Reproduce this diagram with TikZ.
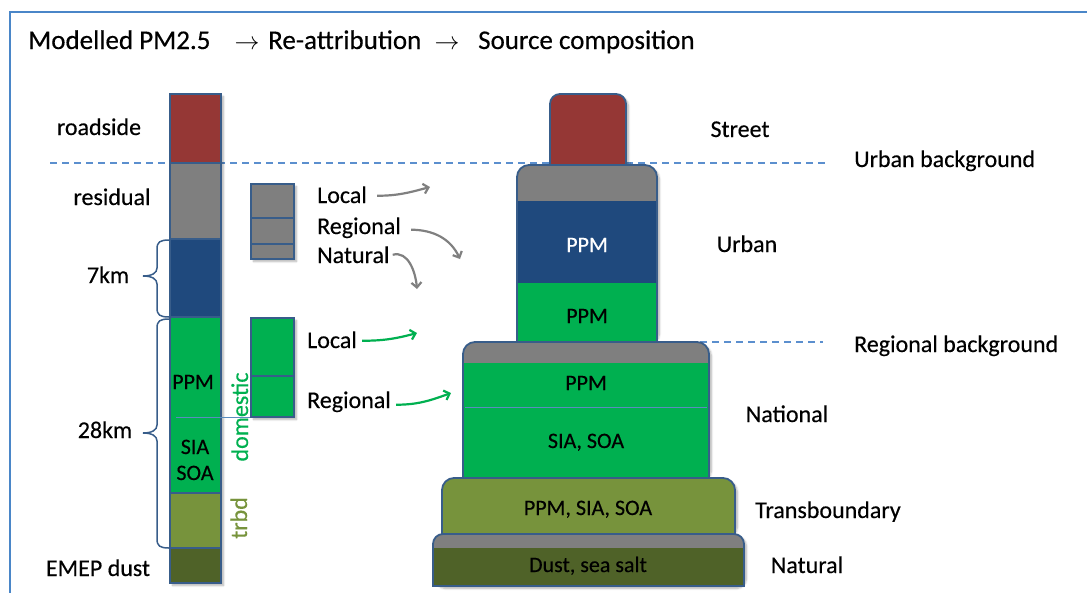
\documentclass[tikz,border=0pt]{standalone}
\usepackage{fontspec}
\setmainfont{Carlito}[FakeBold=0.35]
\usetikzlibrary{arrows.meta,shadows.blur}
\definecolor{cred}{RGB}{149,55,53}
\definecolor{cgray}{RGB}{127,127,127}
\definecolor{cblue}{RGB}{31,73,125}
\definecolor{cgreen}{RGB}{0,176,80}
\definecolor{colive}{RGB}{119,147,60}
\definecolor{cdolive}{RGB}{79,98,40}
\definecolor{cborder}{RGB}{56,93,138}
\definecolor{cdash}{RGB}{91,143,206}
\definecolor{cframe}{RGB}{74,134,200}
\definecolor{carrgray}{RGB}{128,128,128}
\definecolor{cthin}{RGB}{90,140,190}
\begin{document}
\begin{tikzpicture}[x=1pt,y=-1pt,
  lab/.style={font=\fontsize{24}{28}\selectfont, inner sep=0pt, anchor=base},
  labw/.style={lab, anchor=base west},
  boxtxt/.style={font=\fontsize{22}{26}\selectfont, inner sep=0pt, anchor=base},
  ttl/.style={font=\fontsize{27}{32}\selectfont, inner sep=0pt, anchor=base west},
  box/.style={draw=cborder, line width=1.8pt},
  brc/.style={draw=cborder, line width=1.5pt},
  dline/.style={draw=cdash, line width=1.5pt, dash pattern=on 7pt off 5pt},
  shd/.style={blur shadow={shadow xshift=2.5pt, shadow yshift=-2.5pt, shadow opacity=30, shadow blur steps=6}},
  garrow/.style={draw=carrgray, line width=2.2pt, -{Straight Barb[length=5pt,width=10pt]}},
  grarrow/.style={draw=cgreen, line width=2.2pt, -{Straight Barb[length=5pt,width=10pt]}},
  thin/.style={draw=cthin, line width=0.8pt}]
\useasboundingbox (0,0) rectangle (1087,592);
% frame
\draw[cframe, line width=2pt] (10,600) -- (10,12) -- (1095,12);
% title
\node[ttl] (t1) at (28,49) {Modelled PM2.5};
\node[ttl, anchor=base] (t2) at (247,49) {$\rightarrow$};
\node[ttl] (t3) at (268,49) {Re-attribution};
\node[ttl, anchor=base] (t4) at (447,49) {$\rightarrow$};
\node[ttl] (t5) at (478,49) {Source composition};
% dashed lines
\draw[dline] (50,163) -- (828,163);
\draw[dline] (700,342) -- (823,342);
% shadows
\path[shd] (170,94) rectangle (221,583);
\path[shd] (251,184) rectangle (294,259);
\path[shd] (251,318) rectangle (294,417);
\path[shd, rounded corners=10pt] (550,94) rectangle (626,175);
\path[shd, rounded corners=12pt] (517,165) rectangle (657,343);
\path[shd, rounded corners=12pt] (463,342) rectangle (709,480);
\path[shd, rounded corners=12pt] (442,478) rectangle (735,536);
\path[shd, rounded corners=10pt] (433,534) rectangle (744,586);
% left column
\filldraw[box, fill=cred] (170,94) rectangle (221,163);
\filldraw[box, fill=cgray] (170,163) rectangle (221,239);
\filldraw[box, fill=cblue] (170,239) rectangle (221,317);
\filldraw[box, fill=cgreen] (170,317) rectangle (221,493);
\filldraw[box, fill=colive] (170,493) rectangle (221,548);
\filldraw[box, fill=cdolive] (170,548) rectangle (221,583);
\draw[thin] (176,417) -- (251,417);
% braces
\draw[brc] (169,240) .. controls (160,240) and (157,242) .. (157,249) -- (157,268) .. controls (157,273) and (152,276) .. (143,276) .. controls (152,276) and (157,279) .. (157,284) -- (157,308) .. controls (157,315) and (160,317) .. (169,317);
\draw[brc] (169,319) .. controls (160,319) and (157,321) .. (157,328) -- (157,425) .. controls (157,430) and (152,433) .. (143,433) .. controls (152,433) and (157,436) .. (157,441) -- (157,539) .. controls (157,546) and (160,548) .. (169,548);
% small boxes
\filldraw[box, fill=cgray] (251,184) rectangle (294,218);
\filldraw[box, fill=cgray] (251,218) rectangle (294,244);
\filldraw[box, fill=cgray] (251,244) rectangle (294,259);
\filldraw[box, fill=cgreen] (251,318) rectangle (294,376);
\filldraw[box, fill=cgreen] (251,376) rectangle (294,417);
% right stack: street
\begin{scope}
\clip[rounded corners=10pt] (550,94) rectangle (626,190);
\fill[cred] (550,94) rectangle (626,170);
\end{scope}
\draw[box, rounded corners=10pt] (550,168) -- (550,94) -- (626,94) -- (626,168);
% urban block
\begin{scope}
\clip[rounded corners=12pt] (517,165) rectangle (657,380);
\fill[cgray] (517,165) rectangle (657,201);
\fill[cblue] (517,201) rectangle (657,283);
\fill[cgreen] (517,283) rectangle (657,343);
\end{scope}
\draw[box, rounded corners=12pt] (517,343) -- (517,165) -- (657,165) -- (657,343);
% national block
\begin{scope}
\clip[rounded corners=12pt] (463,342) rectangle (709,520);
\fill[cgray] (463,342) rectangle (709,363);
\fill[cgreen] (463,363) rectangle (709,480);
\end{scope}
\draw[thin] (465,407) -- (707,407);
\draw[box, rounded corners=12pt] (463,480) -- (463,342) -- (709,342) -- (709,480);
% transboundary block
\begin{scope}
\clip[rounded corners=12pt] (442,478) rectangle (735,570);
\fill[colive] (442,478) rectangle (735,536);
\end{scope}
\draw[box, rounded corners=12pt] (442,536) -- (442,478) -- (735,478) -- (735,536);
% natural block
\begin{scope}
\clip[rounded corners=10pt] (433,534) rectangle (744,620);
\fill[cgray] (433,534) rectangle (744,548);
\fill[cdolive] (433,548) rectangle (744,586);
\end{scope}
\draw[box, rounded corners=10pt] (433,586) -- (433,534) -- (744,534) -- (744,586);
\draw[box, line cap=rect] (433,586) -- (744,586);
% left labels
\node[lab] (road) at (99,135) {roadside};
\node[lab] (resid) at (112,205) {residual};
\node[lab] (km7) at (108,283) {7km};
\node[lab] (km28) at (105,438) {28km};
\node[lab] (emep) at (98,576) {EMEP dust};
\node[boxtxt] (cppm) at (193,389) {PPM};
\node[boxtxt] (csia) at (195,454) {SIA};
\node[boxtxt] (csoa) at (195,480) {SOA};
\node[lab, rotate=90, text=cgreen] (dom) at (248,417) {domestic};
\node[lab, rotate=90, text=colive] (trbd) at (247,518) {trbd};
% middle labels
\node[labw] (gLoc) at (317,203) {Local};
\node[labw] (gReg) at (317,234) {Regional};
\node[labw] (gNat) at (317,263) {Natural};
\node[labw] (grLoc) at (307,348) {Local};
\node[labw] (grReg) at (307,408) {Regional};
% arrows
\coordinate (gLocE) at (430,187);
\coordinate (gRegE) at (460,259);
\coordinate (gNatE) at (417,289);
\coordinate (grLocE) at (417,333);
\coordinate (grRegE) at (451,393);
\draw[garrow] ([xshift=10pt,yshift=-1pt]gLoc.east) to[out=0,in=195] (gLocE);
\draw[garrow] ([xshift=10pt,yshift=-2pt]gReg.east) to[out=0,in=115] (gRegE);
\draw[garrow] ([xshift=3pt]gNat.east) to[out=15,in=95] (gNatE);
\draw[grarrow] ([xshift=5pt,yshift=-1pt]grLoc.east) to[out=0,in=195] (grLocE);
\draw[grarrow] ([xshift=5pt,yshift=-3pt]grReg.east) to[out=0,in=200] (grRegE);
% stack texts
\node[boxtxt, text=white] (uppm) at (587,252) {PPM};
\node[boxtxt] (ugppm) at (587,323) {PPM};
\node[boxtxt] (nppm) at (586,390) {PPM};
\node[boxtxt] (nsia) at (586,448) {SIA, SOA};
\node[boxtxt] (tppm) at (588,515) {PPM, SIA, SOA};
\node[boxtxt] (dust) at (588,572) {Dust, sea salt};
% right labels
\node[lab] (street) at (740,137) {Street};
\node[labw] (ubg) at (854,167) {Urban background};
\node[lab] (urban) at (747,252) {Urban};
\node[labw] (rbg) at (854,352) {Regional background};
\node[lab] (natl) at (787,422) {National};
\node[lab] (trans) at (828,518) {Transboundary};
\node[lab] (natu) at (807,573) {Natural};
\end{tikzpicture}
\end{document}
